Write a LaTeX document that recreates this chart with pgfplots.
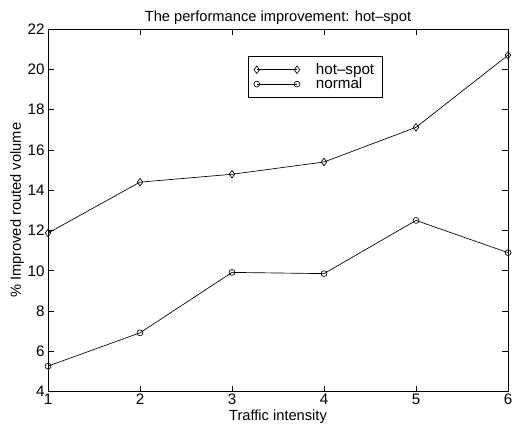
\documentclass[border=0pt]{standalone}
\usepackage{fontspec}
\setmainfont{Liberation Sans}
\usepackage{pgfplots}
\pgfplotsset{compat=1.18}
\begin{document}
\begin{tikzpicture}
\begin{axis}[
  name=ax,
  scale only axis,
  width=345pt, height=272pt,
  xmin=1, xmax=6, ymin=4, ymax=22,
  xtick={1,2,3,4,5,6},
  ytick={4,6,8,10,12,14,16,18,20,22},
  tick align=inside,
  tick pos=both,
  major tick length=4.5pt,
  axis line style={line width=0.6pt},
  every tick/.style={black, line width=0.5pt},
  font=\fontsize{11}{12}\selectfont,
  /pgf/number format/assume math mode=true,
  tick label style={font=\fontsize{11.4}{12}\selectfont},
  xticklabel style={yshift=2pt},
  yticklabel style={xshift=1pt},
  xlabel={Traffic intensity},
  ylabel={\% Improved routed volume},
  xlabel style={yshift=3pt},
  ylabel style={yshift=-4pt},
  title={The performance improvement: hot\textendash spot},
  title style={yshift=-6pt},
  legend cell align=left,
  legend style={at={(0.435,0.925)}, anchor=north west, draw=black, line width=0.6pt,
    font=\fontsize{11.4}{12}\selectfont, row sep=-3pt, inner xsep=4pt, inner ysep=3pt,
    /tikz/every odd column/.append style={column sep=10pt}},
  legend image code/.code={\draw[#1, mark repeat=2, mark phase=1] plot coordinates {(0cm,0cm) (0.53cm,0cm) (1.06cm,0cm)};},
]
\addplot[black, line width=0.5pt, mark=diamond, mark size=2.8pt, mark options={solid, line width=0.5pt}]
  coordinates {(1,11.87) (2,14.4) (3,14.79) (4,15.4) (5,17.12) (6,20.7)};
\addlegendentry{hot\textendash spot}
\addplot[black, line width=0.5pt, mark=o, mark size=2.2pt, mark options={solid, line width=0.5pt}]
  coordinates {(1,5.27) (2,6.92) (3,9.92) (4,9.86) (5,12.5) (6,10.9)};
\addlegendentry{normal}
\end{axis}
\path ([xshift=-36pt,yshift=-30.75pt]ax.south west) rectangle ([xshift=7.5pt,yshift=21.75pt]ax.north east);
\end{tikzpicture}
\end{document}
